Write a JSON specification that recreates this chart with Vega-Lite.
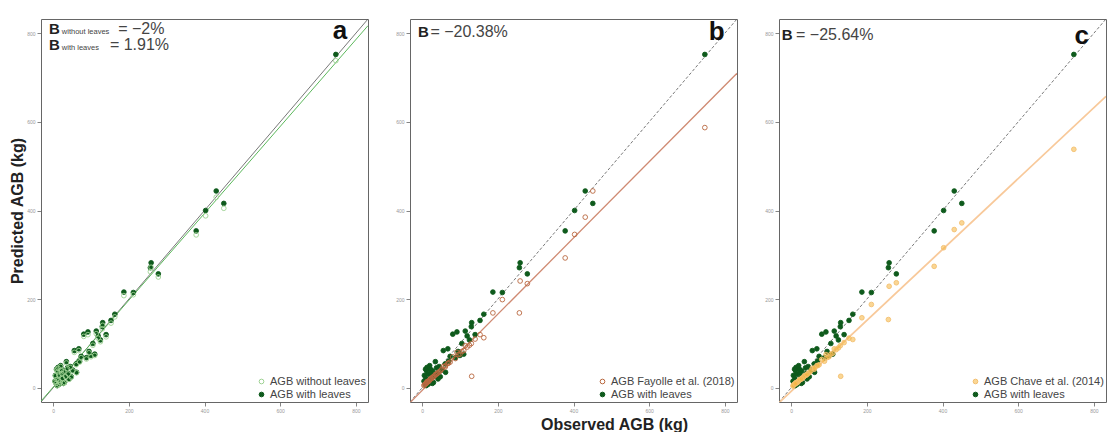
{
"$schema": "https://vega.github.io/schema/vega-lite/v6.json",
"padding": {"left": 9, "top": 17, "right": 0, "bottom": 0},
"background": "white",
"spacing": 26,
"config": {
 "font": "Liberation Sans",
 "view": {"stroke": "#666", "strokeWidth": 1},
 "axis": {"domain": false, "grid": false, "tickSize": 4, "tickColor": "#666", "tickWidth": 0.8, "labelFontSize": 5, "labelColor": "#999", "labelPadding": 2, "titleFontSize": 16, "titleFontWeight": "bold", "titleColor": "#222", "titlePadding": 2},
 "legend": {"labelFontSize": 11, "labelColor": "#444", "symbolSize": 22, "rowPadding": 1, "padding": 0, "symbolStrokeWidth": 1, "labelOffset": 3}
},
"datasets": {
 "lines": [
  {"obs": -32, "pred": -32, "line": "one"}, {"obs": 832, "pred": 832, "line": "one"},
  {"obs": -32, "pred": -30, "line": "a"}, {"obs": 832, "pred": 817, "line": "a"},
  {"obs": -32, "pred": -33.5, "line": "b"}, {"obs": 832, "pred": 709.5, "line": "b"},
  {"obs": -32, "pred": -33.6, "line": "c"}, {"obs": 832, "pred": 657.6, "line": "c"}
 ],
 "pts": [
  {"obs":747,"pred":752,"series":"with"},{"obs":431,"pred":444,"series":"with"},{"obs":451,"pred":416,"series":"with"},{"obs":403,"pred":400,"series":"with"},{"obs":378,"pred":354,"series":"with"},{"obs":259,"pred":282,"series":"with"},{"obs":257,"pred":271,"series":"with"},{"obs":278,"pred":257,"series":"with"},{"obs":187,"pred":216,"series":"with"},{"obs":212,"pred":215,"series":"with"},{"obs":163,"pred":166,"series":"with"},{"obs":153,"pred":152,"series":"with"},{"obs":131,"pred":147,"series":"with"},{"obs":130,"pred":138,"series":"with"},{"obs":114,"pred":128,"series":"with"},{"obs":92,"pred":126,"series":"with"},{"obs":81,"pred":121,"series":"with"},{"obs":119,"pred":117,"series":"with"},{"obs":125,"pred":108,"series":"with"},{"obs":110,"pred":76,"series":"with"},{"obs":100,"pred":73,"series":"with"},{"obs":56,"pred":84,"series":"with"},{"obs":68,"pred":88,"series":"with"},{"obs":74,"pred":71,"series":"with"},{"obs":88,"pred":68,"series":"with"},{"obs":61,"pred":54,"series":"with"},{"obs":35,"pred":59,"series":"with"},{"obs":13,"pred":46,"series":"with"},{"obs":22,"pred":42,"series":"with"},{"obs":105,"pred":100,"series":"with"},{"obs":45,"pred":48,"series":"with"},{"obs":40,"pred":32,"series":"with"},{"obs":28,"pred":38,"series":"with"},{"obs":15,"pred":30,"series":"with"},{"obs":10,"pred":20,"series":"with"},{"obs":18,"pred":14,"series":"with"},{"obs":25,"pred":22,"series":"with"},{"obs":8,"pred":10,"series":"with"},{"obs":30,"pred":12,"series":"with"},{"obs":12,"pred":38,"series":"with"},{"obs":48,"pred":25,"series":"with"},{"obs":38,"pred":45,"series":"with"},{"obs":20,"pred":50,"series":"with"},{"obs":6,"pred":28,"series":"with"},{"obs":52,"pred":40,"series":"with"},{"obs":33,"pred":26,"series":"with"},{"obs":62,"pred":35,"series":"with"},{"obs":16,"pred":8,"series":"with"},{"obs":9,"pred":42,"series":"with"},{"obs":70,"pred":60,"series":"with"},{"obs":95,"pred":82,"series":"with"},{"obs":140,"pred":120,"series":"with"},{"obs":23,"pred":33,"series":"with"},{"obs":14,"pred":17,"series":"with"},{"obs":5,"pred":15,"series":"with"},{"obs":42,"pred":20,"series":"with"},{"obs":27,"pred":10,"series":"with"},{"obs":11,"pred":5,"series":"with"},
  {"obs":747,"pred":738,"series":"without"},{"obs":431,"pred":430,"series":"without"},{"obs":451,"pred":405,"series":"without"},{"obs":403,"pred":388,"series":"without"},{"obs":378,"pred":345,"series":"without"},{"obs":259,"pred":272,"series":"without"},{"obs":257,"pred":262,"series":"without"},{"obs":278,"pred":250,"series":"without"},{"obs":187,"pred":208,"series":"without"},{"obs":212,"pred":210,"series":"without"},{"obs":163,"pred":160,"series":"without"},{"obs":153,"pred":146,"series":"without"},{"obs":131,"pred":141,"series":"without"},{"obs":130,"pred":133,"series":"without"},{"obs":114,"pred":122,"series":"without"},{"obs":92,"pred":120,"series":"without"},{"obs":81,"pred":116,"series":"without"},{"obs":119,"pred":112,"series":"without"},{"obs":125,"pred":104,"series":"without"},{"obs":110,"pred":73,"series":"without"},{"obs":100,"pred":70,"series":"without"},{"obs":56,"pred":80,"series":"without"},{"obs":68,"pred":84,"series":"without"},{"obs":74,"pred":68,"series":"without"},{"obs":88,"pred":65,"series":"without"},{"obs":61,"pred":52,"series":"without"},{"obs":35,"pred":56,"series":"without"},{"obs":13,"pred":44,"series":"without"},{"obs":22,"pred":40,"series":"without"},{"obs":105,"pred":96,"series":"without"},{"obs":45,"pred":46,"series":"without"},{"obs":40,"pred":31,"series":"without"},{"obs":28,"pred":36,"series":"without"},{"obs":15,"pred":29,"series":"without"},{"obs":10,"pred":19,"series":"without"},{"obs":18,"pred":13,"series":"without"},{"obs":25,"pred":21,"series":"without"},{"obs":8,"pred":10,"series":"without"},{"obs":30,"pred":12,"series":"without"},{"obs":12,"pred":36,"series":"without"},{"obs":48,"pred":24,"series":"without"},{"obs":38,"pred":43,"series":"without"},{"obs":20,"pred":48,"series":"without"},{"obs":6,"pred":27,"series":"without"},{"obs":52,"pred":38,"series":"without"},{"obs":33,"pred":25,"series":"without"},{"obs":62,"pred":34,"series":"without"},{"obs":16,"pred":8,"series":"without"},{"obs":9,"pred":40,"series":"without"},{"obs":70,"pred":58,"series":"without"},{"obs":95,"pred":79,"series":"without"},{"obs":140,"pred":115,"series":"without"},{"obs":23,"pred":32,"series":"without"},{"obs":14,"pred":16,"series":"without"},{"obs":5,"pred":14,"series":"without"},{"obs":42,"pred":19,"series":"without"},{"obs":27,"pred":10,"series":"without"},{"obs":11,"pred":5,"series":"without"},
  {"obs":747,"pred":587,"series":"fayolle"},{"obs":431,"pred":385,"series":"fayolle"},{"obs":451,"pred":444,"series":"fayolle"},{"obs":403,"pred":346,"series":"fayolle"},{"obs":378,"pred":293,"series":"fayolle"},{"obs":259,"pred":241,"series":"fayolle"},{"obs":257,"pred":169,"series":"fayolle"},{"obs":278,"pred":235,"series":"fayolle"},{"obs":187,"pred":169,"series":"fayolle"},{"obs":212,"pred":199,"series":"fayolle"},{"obs":163,"pred":113,"series":"fayolle"},{"obs":153,"pred":120,"series":"fayolle"},{"obs":131,"pred":26,"series":"fayolle"},{"obs":130,"pred":100,"series":"fayolle"},{"obs":114,"pred":95,"series":"fayolle"},{"obs":92,"pred":80,"series":"fayolle"},{"obs":81,"pred":70,"series":"fayolle"},{"obs":119,"pred":92,"series":"fayolle"},{"obs":125,"pred":96,"series":"fayolle"},{"obs":110,"pred":84,"series":"fayolle"},{"obs":100,"pred":76,"series":"fayolle"},{"obs":56,"pred":48,"series":"fayolle"},{"obs":68,"pred":55,"series":"fayolle"},{"obs":74,"pred":58,"series":"fayolle"},{"obs":88,"pred":66,"series":"fayolle"},{"obs":61,"pred":47,"series":"fayolle"},{"obs":35,"pred":30,"series":"fayolle"},{"obs":13,"pred":14,"series":"fayolle"},{"obs":22,"pred":20,"series":"fayolle"},{"obs":105,"pred":82,"series":"fayolle"},{"obs":45,"pred":36,"series":"fayolle"},{"obs":40,"pred":32,"series":"fayolle"},{"obs":28,"pred":24,"series":"fayolle"},{"obs":15,"pred":14,"series":"fayolle"},{"obs":10,"pred":10,"series":"fayolle"},{"obs":18,"pred":15,"series":"fayolle"},{"obs":25,"pred":21,"series":"fayolle"},{"obs":8,"pred":8,"series":"fayolle"},{"obs":30,"pred":25,"series":"fayolle"},{"obs":12,"pred":12,"series":"fayolle"},{"obs":48,"pred":38,"series":"fayolle"},{"obs":38,"pred":31,"series":"fayolle"},{"obs":20,"pred":18,"series":"fayolle"},{"obs":6,"pred":7,"series":"fayolle"},{"obs":52,"pred":42,"series":"fayolle"},{"obs":33,"pred":27,"series":"fayolle"},{"obs":62,"pred":50,"series":"fayolle"},{"obs":16,"pred":14,"series":"fayolle"},{"obs":9,"pred":9,"series":"fayolle"},{"obs":70,"pred":56,"series":"fayolle"},{"obs":95,"pred":75,"series":"fayolle"},{"obs":140,"pred":110,"series":"fayolle"},{"obs":23,"pred":20,"series":"fayolle"},{"obs":14,"pred":13,"series":"fayolle"},{"obs":5,"pred":5,"series":"fayolle"},{"obs":42,"pred":34,"series":"fayolle"},{"obs":27,"pred":23,"series":"fayolle"},{"obs":11,"pred":10,"series":"fayolle"},
  {"obs":747,"pred":538,"series":"chave"},{"obs":431,"pred":357,"series":"chave"},{"obs":451,"pred":372,"series":"chave"},{"obs":403,"pred":316,"series":"chave"},{"obs":378,"pred":274,"series":"chave"},{"obs":259,"pred":229,"series":"chave"},{"obs":257,"pred":154,"series":"chave"},{"obs":278,"pred":237,"series":"chave"},{"obs":187,"pred":158,"series":"chave"},{"obs":212,"pred":188,"series":"chave"},{"obs":163,"pred":109,"series":"chave"},{"obs":153,"pred":112,"series":"chave"},{"obs":131,"pred":26,"series":"chave"},{"obs":130,"pred":95,"series":"chave"},{"obs":114,"pred":88,"series":"chave"},{"obs":92,"pred":75,"series":"chave"},{"obs":81,"pred":64,"series":"chave"},{"obs":119,"pred":86,"series":"chave"},{"obs":125,"pred":90,"series":"chave"},{"obs":110,"pred":78,"series":"chave"},{"obs":100,"pred":70,"series":"chave"},{"obs":56,"pred":44,"series":"chave"},{"obs":68,"pred":50,"series":"chave"},{"obs":74,"pred":52,"series":"chave"},{"obs":88,"pred":60,"series":"chave"},{"obs":61,"pred":42,"series":"chave"},{"obs":35,"pred":27,"series":"chave"},{"obs":13,"pred":12,"series":"chave"},{"obs":22,"pred":18,"series":"chave"},{"obs":105,"pred":76,"series":"chave"},{"obs":45,"pred":33,"series":"chave"},{"obs":40,"pred":29,"series":"chave"},{"obs":28,"pred":21,"series":"chave"},{"obs":15,"pred":12,"series":"chave"},{"obs":10,"pred":9,"series":"chave"},{"obs":18,"pred":13,"series":"chave"},{"obs":25,"pred":19,"series":"chave"},{"obs":8,"pred":7,"series":"chave"},{"obs":30,"pred":22,"series":"chave"},{"obs":12,"pred":10,"series":"chave"},{"obs":48,"pred":34,"series":"chave"},{"obs":38,"pred":28,"series":"chave"},{"obs":20,"pred":16,"series":"chave"},{"obs":6,"pred":6,"series":"chave"},{"obs":52,"pred":38,"series":"chave"},{"obs":33,"pred":24,"series":"chave"},{"obs":62,"pred":45,"series":"chave"},{"obs":16,"pred":12,"series":"chave"},{"obs":9,"pred":8,"series":"chave"},{"obs":70,"pred":50,"series":"chave"},{"obs":95,"pred":68,"series":"chave"},{"obs":140,"pred":102,"series":"chave"},{"obs":23,"pred":18,"series":"chave"},{"obs":14,"pred":11,"series":"chave"},{"obs":5,"pred":4,"series":"chave"},{"obs":42,"pred":30,"series":"chave"},{"obs":27,"pred":20,"series":"chave"},{"obs":11,"pred":9,"series":"chave"}
 ]
},
"resolve": {"scale": {"color": "independent", "fill": "independent"}, "legend": {"color": "independent", "fill": "independent"}},
"hconcat": [
 {
  "width": 327, "height": 383,
  "layer": [
   {"data": {"name": "lines"}, "transform": [{"filter": "datum.line == 'one'"}],
    "mark": {"type": "line", "color": "#555", "strokeWidth": 0.8, "clip": true},
    "encoding": {
     "x": {"field": "obs", "type": "quantitative", "scale": {"domain": [-32, 832], "nice": false, "zero": false}, "axis": {"values": [0, 200, 400, 600, 800], "title": null}},
     "y": {"field": "pred", "type": "quantitative", "scale": {"domain": [-32, 832], "nice": false, "zero": false}, "axis": {"values": [0, 200, 400, 600, 800], "title": "Predicted AGB (kg)", "titlePadding": 1}}
    }},
   {"data": {"name": "lines"}, "transform": [{"filter": "datum.line == 'a'"}],
    "mark": {"type": "line", "color": "#5cb85c", "strokeWidth": 1, "clip": true},
    "encoding": {
     "x": {"field": "obs", "type": "quantitative", "axis": {"values": [0, 200, 400, 600, 800], "title": null}},
     "y": {"field": "pred", "type": "quantitative", "axis": {"values": [0, 200, 400, 600, 800], "title": "Predicted AGB (kg)", "titlePadding": 1}}
    }},
   {"data": {"name": "pts"}, "transform": [{"filter": {"field": "series", "oneOf": ["with", "without"]}}],
    "mark": {"type": "point", "shape": "circle", "size": 22, "strokeWidth": 0.9, "opacity": 1, "clip": true},
    "encoding": {
     "x": {"field": "obs", "type": "quantitative", "axis": {"values": [0, 200, 400, 600, 800], "title": null}},
     "y": {"field": "pred", "type": "quantitative", "axis": {"values": [0, 200, 400, 600, 800], "title": "Predicted AGB (kg)", "titlePadding": 1}},
     "color": {"field": "series", "type": "nominal", "scale": {"domain": ["without", "with"], "range": ["#9fd294", "#0e5a1c"]}, "legend": {"title": null, "orient": "bottom-right", "offset": 2, "labelExpr": "datum.label == 'with' ? 'AGB with leaves' : 'AGB without leaves'"}},
     "fill": {"field": "series", "type": "nominal", "scale": {"domain": ["without", "with"], "range": ["transparent", "#0e5a1c"]}, "legend": {"title": null, "orient": "bottom-right", "offset": 2, "labelExpr": "datum.label == 'with' ? 'AGB with leaves' : 'AGB without leaves'"}}
    }},
   {"data": {"values": [{}]}, "mark": {"type": "text", "text": "B", "fontWeight": "bold", "fontSize": 15, "align": "left", "baseline": "alphabetic", "color": "#222"},
    "encoding": {"x": {"datum": -11, "type": "quantitative", "axis": {"values": [0, 200, 400, 600, 800], "title": null}}, "y": {"datum": 799, "type": "quantitative", "axis": {"values": [0, 200, 400, 600, 800], "title": "Predicted AGB (kg)", "titlePadding": 1}}}},
   {"data": {"values": [{}]}, "mark": {"type": "text", "text": "without leaves", "fontSize": 7.5, "align": "left", "baseline": "alphabetic", "color": "#444"},
    "encoding": {"x": {"datum": 23, "type": "quantitative", "axis": {"values": [0, 200, 400, 600, 800], "title": null}}, "y": {"datum": 799, "type": "quantitative", "axis": {"values": [0, 200, 400, 600, 800], "title": "Predicted AGB (kg)", "titlePadding": 1}}}},
   {"data": {"values": [{}]}, "mark": {"type": "text", "text": "= −2%", "fontSize": 16, "align": "left", "baseline": "alphabetic", "color": "#444"},
    "encoding": {"x": {"datum": 172, "type": "quantitative", "axis": {"values": [0, 200, 400, 600, 800], "title": null}}, "y": {"datum": 799, "type": "quantitative", "axis": {"values": [0, 200, 400, 600, 800], "title": "Predicted AGB (kg)", "titlePadding": 1}}}},
   {"data": {"values": [{}]}, "mark": {"type": "text", "text": "B", "fontWeight": "bold", "fontSize": 15, "align": "left", "baseline": "alphabetic", "color": "#222"},
    "encoding": {"x": {"datum": -11, "type": "quantitative", "axis": {"values": [0, 200, 400, 600, 800], "title": null}}, "y": {"datum": 763, "type": "quantitative", "axis": {"values": [0, 200, 400, 600, 800], "title": "Predicted AGB (kg)", "titlePadding": 1}}}},
   {"data": {"values": [{}]}, "mark": {"type": "text", "text": "with leaves", "fontSize": 7.5, "align": "left", "baseline": "alphabetic", "color": "#444"},
    "encoding": {"x": {"datum": 23, "type": "quantitative", "axis": {"values": [0, 200, 400, 600, 800], "title": null}}, "y": {"datum": 763, "type": "quantitative", "axis": {"values": [0, 200, 400, 600, 800], "title": "Predicted AGB (kg)", "titlePadding": 1}}}},
   {"data": {"values": [{}]}, "mark": {"type": "text", "text": "= 1.91%", "fontSize": 16, "align": "left", "baseline": "alphabetic", "color": "#444"},
    "encoding": {"x": {"datum": 150, "type": "quantitative", "axis": {"values": [0, 200, 400, 600, 800], "title": null}}, "y": {"datum": 763, "type": "quantitative", "axis": {"values": [0, 200, 400, 600, 800], "title": "Predicted AGB (kg)", "titlePadding": 1}}}},
   {"data": {"values": [{}]}, "mark": {"type": "text", "text": "a", "fontWeight": "bold", "fontSize": 26, "align": "center", "baseline": "alphabetic", "color": "#111"},
    "encoding": {"x": {"datum": 758, "type": "quantitative", "axis": {"values": [0, 200, 400, 600, 800], "title": null}}, "y": {"datum": 787, "type": "quantitative", "axis": {"values": [0, 200, 400, 600, 800], "title": "Predicted AGB (kg)", "titlePadding": 1}}}}
  ]
 },
 {
  "width": 327, "height": 383,
  "layer": [
   {"data": {"name": "lines"}, "transform": [{"filter": "datum.line == 'one'"}],
    "mark": {"type": "line", "color": "#555", "strokeWidth": 0.8, "strokeDash": [3, 2], "clip": true},
    "encoding": {
     "x": {"field": "obs", "type": "quantitative", "scale": {"domain": [-32, 832], "nice": false, "zero": false}, "axis": {"values": [0, 200, 400, 600, 800], "title": "Observed AGB (kg)", "titleX": 204, "titlePadding": 3}},
     "y": {"field": "pred", "type": "quantitative", "scale": {"domain": [-32, 832], "nice": false, "zero": false}, "axis": {"values": [0, 200, 400, 600, 800], "title": null}}
    }},
   {"data": {"name": "lines"}, "transform": [{"filter": "datum.line == 'b'"}],
    "mark": {"type": "line", "color": "#cf8a72", "strokeWidth": 1.3, "clip": true},
    "encoding": {
     "x": {"field": "obs", "type": "quantitative", "axis": {"values": [0, 200, 400, 600, 800], "title": "Observed AGB (kg)", "titleX": 204, "titlePadding": 3}},
     "y": {"field": "pred", "type": "quantitative", "axis": {"values": [0, 200, 400, 600, 800], "title": null}}
    }},
   {"data": {"name": "pts"}, "transform": [{"filter": {"field": "series", "oneOf": ["with", "fayolle"]}}],
    "mark": {"type": "point", "shape": "circle", "size": 22, "strokeWidth": 0.9, "opacity": 1, "clip": true},
    "encoding": {
     "x": {"field": "obs", "type": "quantitative", "axis": {"values": [0, 200, 400, 600, 800], "title": "Observed AGB (kg)", "titleX": 204, "titlePadding": 3}},
     "y": {"field": "pred", "type": "quantitative", "axis": {"values": [0, 200, 400, 600, 800], "title": null}},
     "color": {"field": "series", "type": "nominal", "scale": {"domain": ["fayolle", "with"], "range": ["#b9683f", "#0e5a1c"]}, "legend": {"title": null, "orient": "bottom-right", "offset": 2, "labelExpr": "datum.label == 'with' ? 'AGB with leaves' : 'AGB Fayolle et al. (2018)'"}},
     "fill": {"field": "series", "type": "nominal", "scale": {"domain": ["fayolle", "with"], "range": ["transparent", "#0e5a1c"]}, "legend": {"title": null, "orient": "bottom-right", "offset": 2, "labelExpr": "datum.label == 'with' ? 'AGB with leaves' : 'AGB Fayolle et al. (2018)'"}}
    }},
   {"data": {"values": [{}]}, "mark": {"type": "text", "text": "B", "fontWeight": "bold", "fontSize": 15, "align": "left", "baseline": "alphabetic", "color": "#222"},
    "encoding": {"x": {"datum": -11, "type": "quantitative", "axis": {"values": [0, 200, 400, 600, 800], "title": "Observed AGB (kg)", "titleX": 204, "titlePadding": 3}}, "y": {"datum": 791, "type": "quantitative", "axis": {"values": [0, 200, 400, 600, 800], "title": null}}}},
   {"data": {"values": [{}]}, "mark": {"type": "text", "text": "= −20.38%", "fontSize": 16, "align": "left", "baseline": "alphabetic", "color": "#444"},
    "encoding": {"x": {"datum": 22, "type": "quantitative", "axis": {"values": [0, 200, 400, 600, 800], "title": "Observed AGB (kg)", "titleX": 204, "titlePadding": 3}}, "y": {"datum": 791, "type": "quantitative", "axis": {"values": [0, 200, 400, 600, 800], "title": null}}}},
   {"data": {"values": [{}]}, "mark": {"type": "text", "text": "b", "fontWeight": "bold", "fontSize": 26, "align": "center", "baseline": "alphabetic", "color": "#111"},
    "encoding": {"x": {"datum": 778, "type": "quantitative", "axis": {"values": [0, 200, 400, 600, 800], "title": "Observed AGB (kg)", "titleX": 204, "titlePadding": 3}}, "y": {"datum": 785, "type": "quantitative", "axis": {"values": [0, 200, 400, 600, 800], "title": null}}}}
  ]
 },
 {
  "width": 327, "height": 383,
  "layer": [
   {"data": {"name": "lines"}, "transform": [{"filter": "datum.line == 'one'"}],
    "mark": {"type": "line", "color": "#555", "strokeWidth": 0.8, "strokeDash": [3, 2], "clip": true},
    "encoding": {
     "x": {"field": "obs", "type": "quantitative", "scale": {"domain": [-32, 832], "nice": false, "zero": false}, "axis": {"values": [0, 200, 400, 600, 800], "title": null}},
     "y": {"field": "pred", "type": "quantitative", "scale": {"domain": [-32, 832], "nice": false, "zero": false}, "axis": {"values": [0, 200, 400, 600, 800], "title": null}}
    }},
   {"data": {"name": "lines"}, "transform": [{"filter": "datum.line == 'c'"}],
    "mark": {"type": "line", "color": "#f8c99a", "strokeWidth": 1.8, "clip": true},
    "encoding": {
     "x": {"field": "obs", "type": "quantitative", "axis": {"values": [0, 200, 400, 600, 800], "title": null}},
     "y": {"field": "pred", "type": "quantitative", "axis": {"values": [0, 200, 400, 600, 800], "title": null}}
    }},
   {"data": {"name": "pts"}, "transform": [{"filter": {"field": "series", "oneOf": ["with", "chave"]}}],
    "mark": {"type": "point", "shape": "circle", "size": 22, "strokeWidth": 0.9, "opacity": 1, "clip": true},
    "encoding": {
     "x": {"field": "obs", "type": "quantitative", "axis": {"values": [0, 200, 400, 600, 800], "title": null}},
     "y": {"field": "pred", "type": "quantitative", "axis": {"values": [0, 200, 400, 600, 800], "title": null}},
     "color": {"field": "series", "type": "nominal", "scale": {"domain": ["chave", "with"], "range": ["#f3c070", "#0e5a1c"]}, "legend": {"title": null, "orient": "bottom-right", "offset": 2, "labelExpr": "datum.label == 'with' ? 'AGB with leaves' : 'AGB Chave et al. (2014)'"}},
     "fill": {"field": "series", "type": "nominal", "scale": {"domain": ["chave", "with"], "range": ["rgba(245,180,60,0.55)", "#0e5a1c"]}, "legend": {"title": null, "orient": "bottom-right", "offset": 2, "labelExpr": "datum.label == 'with' ? 'AGB with leaves' : 'AGB Chave et al. (2014)'"}}
    }},
   {"data": {"values": [{}]}, "mark": {"type": "text", "text": "B", "fontWeight": "bold", "fontSize": 15, "align": "left", "baseline": "alphabetic", "color": "#222"},
    "encoding": {"x": {"datum": -25, "type": "quantitative", "axis": {"values": [0, 200, 400, 600, 800], "title": null}}, "y": {"datum": 785, "type": "quantitative", "axis": {"values": [0, 200, 400, 600, 800], "title": null}}}},
   {"data": {"values": [{}]}, "mark": {"type": "text", "text": "= −25.64%", "fontSize": 16, "align": "left", "baseline": "alphabetic", "color": "#444"},
    "encoding": {"x": {"datum": 13, "type": "quantitative", "axis": {"values": [0, 200, 400, 600, 800], "title": null}}, "y": {"datum": 785, "type": "quantitative", "axis": {"values": [0, 200, 400, 600, 800], "title": null}}}},
   {"data": {"values": [{}]}, "mark": {"type": "text", "text": "c", "fontWeight": "bold", "fontSize": 26, "align": "center", "baseline": "alphabetic", "color": "#111"},
    "encoding": {"x": {"datum": 768, "type": "quantitative", "axis": {"values": [0, 200, 400, 600, 800], "title": null}}, "y": {"datum": 776, "type": "quantitative", "axis": {"values": [0, 200, 400, 600, 800], "title": null}}}}
  ]
 }
]
}
